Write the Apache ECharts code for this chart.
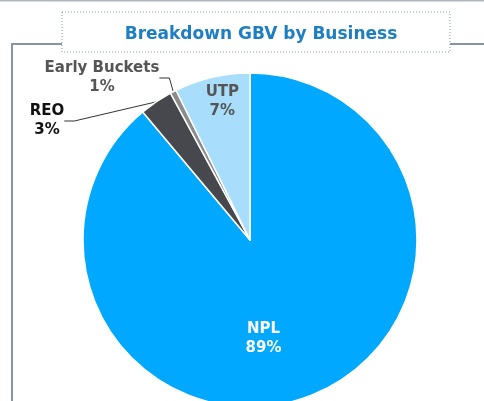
<!DOCTYPE html>
<html>
<head>
<meta charset="utf-8">
<script src="https://cdn.jsdelivr.net/npm/echarts@6/dist/echarts.min.js"></script>
<style>
  html, body { margin: 0; padding: 0; background: #fff; }
  #chart { width: 484px; height: 401px; }
</style>
</head>
<body>
<div id="chart"></div>
<script>
  // breakdown of gross book value, clockwise from 12 o'clock
  const categories = ['NPL', 'REO', 'Early Buckets', 'UTP'];
  const shares = [88.9, 3.2, 0.6, 7.3];
  const colors = ['#00a8ff', '#46484d', '#8c8c8c', '#a8ddfc'];

  const chart = echarts.init(document.getElementById('chart'));

  const labelStyles = [
    { position: 'inside', color: '#fff', offset: [-16, 17] },
    { position: 'outside', color: '#111' },
    { position: 'outside', color: '#555' },
    { position: 'inside', color: '#555', offset: [-8, -54] }
  ];

  const pieData = categories.map(function (name, i) {
    return {
      name: name,
      value: shares[i],
      itemStyle: { color: colors[i] },
      label: labelStyles[i]
    };
  });

  const option = {
    animation: false,
    graphic: [
      { type: 'line', shape: { x1: 0, y1: 0.5, x2: 484, y2: 0.5 }, style: { stroke: '#b0b5bf', lineWidth: 2 } },
      { type: 'polyline', shape: { points: [[12, 401], [12, 44], [62, 44]] }, style: { stroke: '#8a93a3', lineWidth: 2, fill: null } },
      { type: 'line', shape: { x1: 450, y1: 44, x2: 484, y2: 44 }, style: { stroke: '#8a93a3', lineWidth: 2 } },
      { type: 'rect', shape: { x: 62, y: 12, width: 388, height: 40 }, style: { stroke: '#8a93a3', lineWidth: 1, lineDash: [1, 2], fill: '#fff' } }
    ],
    title: {
      text: 'Breakdown GBV by Business',
      left: 256,
      textAlign: 'center',
      top: 21,
      textStyle: { fontFamily: 'DejaVu Sans', fontWeight: 'bold', fontSize: 17, color: '#1d7fc1' }
    },
    series: [{
      type: 'pie',
      center: [250, 240],
      radius: [0, 167],
      startAngle: 90,
      clockwise: true,
      avoidLabelOverlap: false,
      itemStyle: { borderColor: '#fff', borderWidth: 1.5 },
      label: {
        formatter: function (p) { return p.name + '\n' + Math.round(p.value) + '%'; },
        fontFamily: 'DejaVu Sans',
        fontWeight: 'bold',
        fontSize: 15,
        lineHeight: 19,
        align: 'center'
      },
      labelLine: { show: true, length: 10, length2: 10, lineStyle: { color: '#333', width: 1 } },
      labelLayout: function (params) {
        if (params.dataIndex === 1) return { x: 47, y: 121, align: 'center', verticalAlign: 'middle' };
        if (params.dataIndex === 2) return { x: 102, y: 78, align: 'center', verticalAlign: 'middle' };
        return {};
      },
      data: pieData
    }]
  };

  chart.setOption(option);
</script>
</body>
</html>
